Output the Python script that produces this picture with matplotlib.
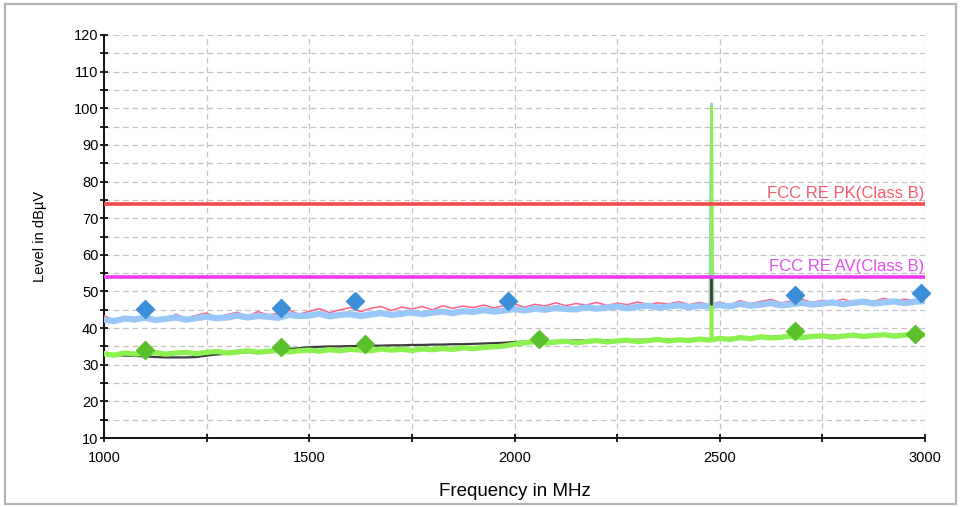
import matplotlib
matplotlib.use("Agg")
import matplotlib.pyplot as plt
from matplotlib.patches import Rectangle
from matplotlib.ticker import MultipleLocator

plt.rcParams['font.family'] = ['Liberation Sans', 'DejaVu Sans']

# ---------------- data ----------------
freq = [1000, 1025, 1050, 1075, 1100, 1125, 1150, 1175, 1200, 1225,
        1250, 1275, 1300, 1325, 1350, 1375, 1400, 1425, 1450, 1475,
        1500, 1525, 1550, 1575, 1600, 1625, 1650, 1675, 1700, 1725,
        1750, 1775, 1800, 1825, 1850, 1875, 1900, 1925, 1950, 1975,
        2000, 2025, 2050, 2075, 2100, 2125, 2150, 2175, 2200, 2225,
        2250, 2275, 2300, 2325, 2350, 2375, 2400, 2425, 2450, 2475,
        2500, 2525, 2550, 2575, 2600, 2625, 2650, 2675, 2700, 2725,
        2750, 2775, 2800, 2825, 2850, 2875, 2900, 2925, 2950, 2975, 3000]

peak_pink = [43.4, 42.1, 43.0, 41.7, 43.6, 42.5, 41.9, 43.8, 42.6, 43.5,
             44.1, 42.9, 43.7, 44.3, 43.2, 44.5, 43.6, 44.0, 44.9, 43.8,
             44.6, 45.3, 44.2, 45.0, 45.6, 44.5, 45.4, 45.9, 44.8, 45.7,
             45.2, 45.9, 45.0, 46.1, 45.4, 46.0, 45.6, 46.3, 45.5, 46.2,
             46.6, 45.7, 46.5, 46.0, 46.9, 46.1, 46.7, 46.3, 47.0, 46.2,
             46.8, 46.4, 47.1, 46.5, 46.9, 46.6, 47.2, 46.4, 47.0, 46.5,
             47.1, 46.4, 47.5, 46.7, 47.3, 47.8, 46.9, 47.4, 47.9, 47.0,
             47.6, 47.2, 47.9, 47.1, 47.8, 47.3, 48.1, 47.4, 47.9, 47.5, 48.0]

peak_blue = [42.3, 41.9, 42.6, 42.4, 42.8, 42.2, 42.5, 42.9, 42.3, 42.7,
             43.1, 42.7, 42.9, 43.4, 42.9, 43.3, 43.1, 42.8, 43.6, 43.3,
             43.4, 43.9, 43.2, 43.6, 43.8, 43.3, 43.7, 44.1, 43.6, 43.9,
             44.3, 43.8, 44.2, 44.5, 44.1, 44.6, 44.4, 44.9, 44.5, 44.8,
             45.2, 44.8, 45.3, 45.0, 45.5, 45.2, 45.1, 45.7, 45.3, 45.6,
             45.9, 45.4, 45.8, 46.1, 45.6, 45.9, 46.2, 45.7, 46.1, 45.9,
             46.3, 45.9, 46.6, 46.1, 46.4, 46.8, 46.2, 46.5, 46.9, 46.4,
             46.7, 47.0, 46.5, 46.9, 47.2, 46.7, 47.0, 47.3, 46.8, 47.2, 47.4]

avg_black = [32.8, 32.6, 32.5, 32.4, 32.3, 32.1, 32.0, 32.0, 32.0, 32.1,
             32.5, 32.8, 33.0, 33.2, 33.4, 33.6, 33.8, 34.0, 34.3, 34.5,
             34.8, 34.9, 35.0, 35.0, 35.1, 35.1, 35.2, 35.2, 35.3, 35.3,
             35.4, 35.4, 35.5, 35.5, 35.6, 35.6, 35.7, 35.8, 35.9, 36.0,
             36.2, 36.3, 36.4, 36.4, 36.5, 36.5, 36.6, 36.6, 36.6, 36.7,
             36.7, 36.7, 36.8, 36.8, 36.8, 36.9, 36.9, 36.9, 36.8, 36.6,
             37.2, 37.3, 37.4, 37.5, 37.5, 37.6, 37.7, 37.7, 37.8, 37.8,
             37.9, 37.9, 37.9, 38.0, 38.0, 38.0, 38.1, 38.1, 38.1, 38.2, 38.2]

avg_green = [33.0, 32.6, 33.2, 32.9, 33.1, 33.3, 32.9, 33.2, 33.4, 33.0,
             33.4, 33.6, 33.2, 33.5, 33.8, 33.4, 33.7, 33.9, 33.5, 33.8,
             34.0, 33.7, 34.1, 33.8, 34.2, 34.0, 33.8, 34.3, 34.0, 34.2,
             33.9, 34.3, 34.1, 34.4, 34.2, 34.6, 34.4, 34.7, 34.9, 35.1,
             35.6, 36.0, 36.3, 35.9, 36.2, 36.4, 36.0, 36.3, 36.6, 36.2,
             36.5, 36.7, 36.3, 36.6, 36.9, 36.5, 36.8, 36.6, 37.0, 36.7,
             37.2, 36.9, 37.4, 37.1, 37.6, 37.3, 37.5, 37.8, 37.4, 37.7,
             37.9, 37.5, 37.8, 38.1, 37.7, 38.0, 38.2, 37.8, 38.1, 38.3, 38.1]

# narrow-band emission near 2480 MHz
spike_freq = [2476, 2478, 2480, 2482, 2484]
spike_blue = [46.0, 78.5, 101.2, 60.0, 46.1]
spike_green = [36.7, 36.7, 100.3, 36.9, 37.0]
spike_black_freq = [2478]
spike_black_low = [46.3]
spike_black_high = [54.0]

pk_marker_freq = [1100, 1431, 1611, 1984, 2683, 2990]
pk_marker_level = [45.3, 45.4, 47.4, 47.4, 49.1, 49.6]
av_marker_freq = [1100, 1431, 1636, 2060, 2683, 2976]
av_marker_level = [34.0, 34.8, 35.7, 37.0, 39.1, 38.4]

limit_pk = 74.0
limit_av = 54.0
limit_pk_label = "FCC RE PK(Class B)"
limit_av_label = "FCC RE AV(Class B)"

# ---------------- figure ----------------
fig = plt.figure(figsize=(9.6, 5.07), dpi=100)
ax = fig.add_axes([104/960, 1-438/507, (925-104)/960, (438-35)/507])

fig.patches.append(Rectangle((5/960, 3/507), 951/960, 500/507, transform=fig.transFigure,
                             fill=False, edgecolor='#b4b4b4', lw=1.6))

ax.set_xlim(1000, 3000)
ax.set_ylim(10, 120)

ax.xaxis.set_major_locator(MultipleLocator(500))
ax.xaxis.set_minor_locator(MultipleLocator(250))
ax.yaxis.set_major_locator(MultipleLocator(10))
ax.yaxis.set_minor_locator(MultipleLocator(5))

ax.grid(which='both', color='#c4c4c4', linestyle=(0, (4.5, 3)), linewidth=0.9)
ax.set_axisbelow(True)

for s in ['top', 'right']:
    ax.spines[s].set_visible(False)
for s in ['left', 'bottom']:
    ax.spines[s].set_linewidth(1.4)
    ax.spines[s].set_color('#111111')

ax.tick_params(which='both', direction='inout', length=6, width=1.3, color='#111111')
ax.tick_params(axis='y', which='major', pad=1, labelsize=10.5)
ax.tick_params(axis='x', which='major', pad=6, labelsize=10.5)

# traces
ax.plot(freq, peak_pink, color='#ff5f86', lw=1.1, zorder=3)
ax.plot(freq, peak_blue, color='#99c8f8', lw=4.5, zorder=4)
ax.plot(freq, avg_black, color='#3c3c3c', lw=1.6, zorder=3)
ax.plot(freq, avg_green, color='#8cf050', lw=3.8, zorder=4)

ax.plot(spike_freq, spike_blue, color='#99c8f8', lw=2.0, zorder=4)
ax.plot(spike_freq, spike_green, color='#8cf050', lw=2.0, zorder=4.2)
ax.vlines(spike_black_freq, spike_black_low, spike_black_high, color='#3c3c3c',
          lw=2.0, zorder=4.3)

# limits
ax.axhline(limit_pk, color='#f24a4a', lw=2.6, zorder=5)
ax.axhline(limit_av, color='#ee3cee', lw=2.6, zorder=5)
ax.text(2998, limit_pk + 0.8, limit_pk_label, color='#f05a6a', fontsize=12,
        ha='right', va='bottom', zorder=6)
ax.text(2998, limit_av + 0.8, limit_av_label, color='#e050e8', fontsize=12,
        ha='right', va='bottom', zorder=6)

# markers
ax.plot(pk_marker_freq, pk_marker_level, linestyle='none', marker='D', markersize=9.5,
        color='#3a8fd8', zorder=7, clip_on=False)
ax.plot(av_marker_freq, av_marker_level, linestyle='none', marker='D', markersize=9.5,
        color='#5cc02c', zorder=7, clip_on=False)

ax.set_xlabel('Frequency in MHz', fontsize=13.5, labelpad=13)
ax.set_ylabel('Level in dBµV', fontsize=10.5)
ax.yaxis.set_label_coords(-57/821, 0.5)

fig.savefig('out.png', dpi=100)
